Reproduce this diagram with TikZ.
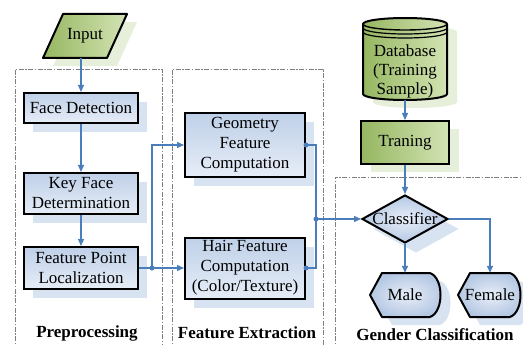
\documentclass[tikz,border=0pt]{standalone}
\usepackage{fontspec}
\setmainfont{Liberation Serif}
\usetikzlibrary{arrows.meta,shapes.geometric,shadows}

\definecolor{lineblue}{HTML}{4A7EBB}
\definecolor{bluetop}{HTML}{BFD0E8}
\definecolor{bluebot}{HTML}{E6EDF7}
\definecolor{blueout}{HTML}{B5C8E3}
\definecolor{bluein}{HTML}{E8EEF8}
\definecolor{shblue}{HTML}{D8E3F1}
\definecolor{greenL}{HTML}{96B761}
\definecolor{greenR}{HTML}{D3E3B4}
\definecolor{shgreen}{HTML}{E6EFD9}
\definecolor{grpgray}{HTML}{7F7F7F}

\begin{document}
\begin{tikzpicture}[x=1pt,y=-1pt,
  font=\fontsize{17}{20}\selectfont,
  bluebox/.style={draw=black,line width=2pt,top color=bluetop,bottom color=bluebot,
    inner sep=0pt,align=center,
    drop shadow={shadow xshift=9pt,shadow yshift=-9pt,fill=shblue,opacity=1}},
  greenbox/.style={draw=black,line width=2pt,left color=greenL,right color=greenR,
    inner sep=0pt,align=center,
    drop shadow={shadow xshift=10pt,shadow yshift=-8pt,fill=shgreen,opacity=1}},
  outline/.style={draw=black,line width=2pt,line join=round},
  grp/.style={draw=grpgray,line width=0.9pt,dash pattern=on 5pt off 1.5pt on 1.5pt off 1.5pt},
  conn/.style={draw=lineblue,line width=1.3pt},
  arr/.style={conn,-{Triangle[length=7pt,width=6pt]}},
  dot/.style={fill=lineblue},
  anchorbox/.style={inner sep=0pt,align=center},
  grplabel/.style={font=\fontsize{17}{20}\selectfont\bfseries}
]
\useasboundingbox (0,0) rectangle (523,345);
\clip (0,0) rectangle (523,345);

% group boxes
\draw[grp] (15,360) -- (15,69) -- (162,69) -- (162,360);
\draw[grp] (172,360) -- (172,69) -- (323,69) -- (323,360);
\draw[grp] (335,360) -- (335,177) -- (540,177);

% Input parallelogram
\begin{scope}[shift={(10,8)}]
  \fill[shgreen] (63,14) -- (127,14) -- (107,58) -- (43,58) -- cycle;
\end{scope}
\draw[outline,left color=greenL,right color=greenR] (63,14) -- (127,14) -- (107,58) -- (43,58) -- cycle;
\node[anchorbox,minimum width=64pt,minimum height=44pt] (input) at (85,36) {Input};

% Preprocessing boxes
\node[bluebox,minimum width=114pt,minimum height=30pt] (fd) at (81,108) {Face Detection};
\node[bluebox,minimum width=114pt,minimum height=41pt] (kfd) at (81,193.5) {Key Face\\Determination};
\node[bluebox,minimum width=114pt,minimum height=42pt] (fpl) at (81,268) {Feature Point\\Localization};

% Feature extraction boxes
\node[bluebox,minimum width=120pt,minimum height=64pt] (geo) at (245,145) {Geometry\\Feature\\Computation};
\node[bluebox,minimum width=120pt,minimum height=61pt] (hair) at (245,268) {Hair Feature\\Computation\\(Color/Texture)};

% Database cylinder
\begin{scope}[shift={(10,8)}]
  \fill[shgreen] (363,24) -- (363,94) arc[start angle=180,end angle=360,x radius=42pt,y radius=6pt]
    -- (447,24) arc[start angle=0,end angle=180,x radius=42pt,y radius=6pt] -- cycle;
\end{scope}
\draw[outline,left color=greenL,right color=greenR] (363,24) -- (363,94)
  arc[start angle=180,end angle=360,x radius=42pt,y radius=6pt]
  -- (447,24) arc[start angle=0,end angle=180,x radius=42pt,y radius=6pt] -- cycle;
\draw[black,line width=1.4pt] (363,24) arc[start angle=180,end angle=360,x radius=42pt,y radius=6pt];
\draw[black,line width=1.2pt] (363,28) arc[start angle=180,end angle=360,x radius=42pt,y radius=6pt];
\draw[black,line width=1.2pt] (363,32) arc[start angle=180,end angle=360,x radius=42pt,y radius=6pt];
\node[anchorbox,minimum width=84pt,minimum height=84pt] (db) at (405,58) {};
\node[anchorbox,font=\fontsize{17}{19}\selectfont] (dbtext) at (405,71) {Database\\(Training\\Sample)};

% Training
\node[greenbox,minimum width=88pt,minimum height=43pt] (tr) at (405,142.5) {Traning};

% Classifier diamond
\node[diamond,draw=black,line width=2pt,inner sep=0pt,minimum width=86pt,minimum height=48pt,
  inner color=bluein,outer color=blueout,
  drop shadow={shadow xshift=11pt,shadow yshift=-10pt,fill=shblue,opacity=1}] (cls) at (405,219) {};
\node[anchorbox] (clstext) at (cls.center) {Classifier};

% Male
\begin{scope}[shift={(10,8)}]
  \fill[shblue] (370,295) -- (382,273) -- (430,273) .. controls (444,278) and (444,312) .. (430,317)
    -- (382,317) -- cycle;
\end{scope}
\draw[outline,inner color=bluein,outer color=blueout] (370,295) -- (382,273) -- (430,273)
  .. controls (444,278) and (444,312) .. (430,317) -- (382,317) -- cycle;
\node[anchorbox,minimum width=70pt,minimum height=44pt] (male) at (405,295) {Male};

% Female
\begin{scope}[shift={(10,8)}]
  \fill[shblue] (458,295) -- (470,273) -- (510,273) .. controls (524,278) and (524,312) .. (510,317)
    -- (470,317) -- cycle;
\end{scope}
\draw[outline,inner color=bluein,outer color=blueout] (458,295) -- (470,273) -- (510,273)
  .. controls (524,278) and (524,312) .. (510,317) -- (470,317) -- cycle;
\node[anchorbox,minimum width=63pt,minimum height=44pt] (female) at (490,295) {Female};

% connectors
\coordinate (j1) at (152,268);
\coordinate (j2) at (316,219);
\draw[arr] (input.south -| fd.north) -- (fd.north);
\draw[arr] (fd.south) -- (kfd.north);
\draw[arr] (kfd.south) -- (fpl.north);
\draw[arr] (fpl.east) -- (hair.west);
\draw[arr] (j1) |- (geo.west);
\draw[conn] (geo.east) -- (geo.east -| j2) -- (hair.east -| j2) -- (hair.east);
\draw[arr] (j2) -- (cls.west);
\draw[arr] (db.south) -- (tr.north);
\draw[arr] (tr.south) -- (cls.north);
\draw[arr] (cls.south) -- (male.north);
\draw[arr] (cls.east) -| (female.north);
\fill[dot] (j1) circle[radius=2.5pt];
\fill[dot] (j2) circle[radius=2.5pt];
\fill[dot] (geo.east) circle[radius=2.5pt];
\fill[dot] (hair.east) circle[radius=2.5pt];

% group labels
\node[grplabel] (lpre) at (87,333) {Preprocessing};
\node[grplabel] (lfe) at (247,333) {Feature Extraction};
\node[grplabel] (lgc) at (435,335) {Gender Classification};
\end{tikzpicture}
\end{document}
